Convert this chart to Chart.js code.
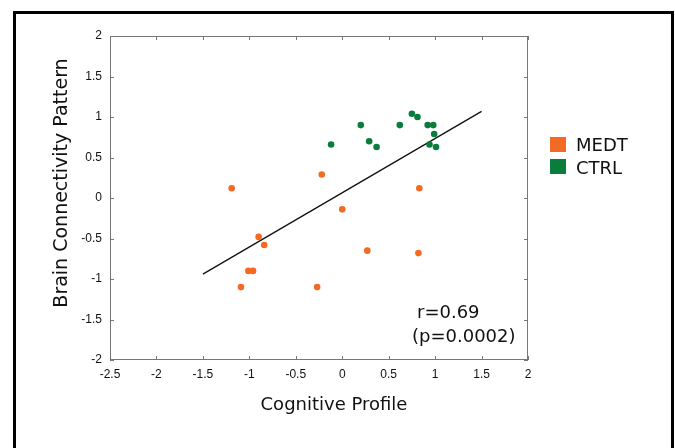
<!DOCTYPE html>
<html>
<head>
<meta charset="utf-8">
<script src="https://cdn.jsdelivr.net/npm/chart.js@4/dist/chart.umd.min.js"></script>
<style>
body { margin: 0; background: #fff; }
#wrap { position: relative; width: 675px; height: 448px; }
#frame { position: absolute; left: 13px; top: 11px; width: 655px; height: 440px;
  border: 3px solid #000; border-bottom: none; pointer-events: none; }
canvas { position: absolute; left: 0; top: 0; }
</style>
</head>
<body>
<div id="wrap">
<canvas id="Chart" width="675" height="448"></canvas>
<div id="frame"></div>
</div>
<script>
// MEDT group
const medtX = [-1.19, -0.22, 0.00, -0.90, -0.84, -1.01, -0.96, -1.09, -0.27, 0.27, 0.83, 0.82];
const medtY = [0.12, 0.29, -0.14, -0.48, -0.58, -0.90, -0.90, -1.10, -1.10, -0.65, 0.12, -0.68];
// CTRL group
const ctrlX = [-0.12, 0.20, 0.29, 0.37, 0.62, 0.75, 0.81, 0.92, 0.98, 0.99, 0.94, 1.01];
const ctrlY = [0.66, 0.90, 0.70, 0.63, 0.90, 1.04, 1.00, 0.90, 0.90, 0.79, 0.66, 0.63];
// fit line ends
const fitX = [-1.5, 1.5];
const fitY = [-0.94, 1.07];

const xTicks = [-2.5, -2, -1.5, -1, -0.5, 0, 0.5, 1, 1.5, 2];
const yTicks = [-2, -1.5, -1, -0.5, 0, 0.5, 1, 1.5, 2];
const groups = ["MEDT", "CTRL"];
const colors = ["#f26a24", "#0a7d3c"];
const stats = ["r=0.69", "(p=0.0002)"];
const xTitle = "Cognitive Profile";
const yTitle = "Brain Connectivity Pattern";

function pts(xs, ys)
{
    return xs.map((x, i) => ({x: x, y: ys[i]}));
}

const decor = {
    id: "decor",
    afterDraw(chart)
    {
        const ctx = chart.ctx;
        const a = chart.chartArea;
        const sx = chart.scales.x, sy = chart.scales.y;
        ctx.save();
        // box + inward ticks
        ctx.strokeStyle = "#777";
        ctx.lineWidth = 1;
        ctx.strokeRect(a.left + 0.5, a.top + 0.5, a.right - a.left - 1, a.bottom - a.top - 1);
        ctx.beginPath();
        xTicks.forEach(v => {
            const px = Math.round(sx.getPixelForValue(v)) + 0.5;
            ctx.moveTo(px, a.bottom); ctx.lineTo(px, a.bottom - 4);
            ctx.moveTo(px, a.top); ctx.lineTo(px, a.top + 4);
        });
        yTicks.forEach(v => {
            const py = Math.round(sy.getPixelForValue(v)) + 0.5;
            ctx.moveTo(a.left, py); ctx.lineTo(a.left + 4, py);
            ctx.moveTo(a.right, py); ctx.lineTo(a.right - 4, py);
        });
        ctx.stroke();

        ctx.fillStyle = "#111";
        ctx.font = "18px 'DejaVu Sans'";
        ctx.textBaseline = "alphabetic";
        ctx.textAlign = "left";
        ctx.fillText(stats[0], 417, 318);
        ctx.fillText(stats[1], 412, 342);

        // legend
        groups.forEach((g, i) => {
            ctx.fillStyle = colors[i];
            ctx.fillRect(550, 137 + i * 22, 16, 15);
            ctx.fillStyle = "#111";
            ctx.fillText(g, 576, 151 + i * 22.5);
        });

        ctx.textAlign = "center";
        ctx.fillText(xTitle, 334, 410);
        ctx.translate(67, 183);
        ctx.rotate(-Math.PI / 2);
        ctx.font = "19px 'DejaVu Sans'";
        ctx.fillText(yTitle, 0, 0);
        ctx.restore();
    }
};

const tickFont = {family: "'Liberation Sans', Arial, sans-serif", size: 12};

new Chart(document.getElementById("Chart"), {
    type: "scatter",
    data: {
        datasets: [
            {
                label: groups[0],
                data: pts(medtX, medtY),
                backgroundColor: colors[0],
                borderWidth: 0,
                pointRadius: 3.3
            },
            {
                label: groups[1],
                data: pts(ctrlX, ctrlY),
                backgroundColor: colors[1],
                borderWidth: 0,
                pointRadius: 3.3
            },
            {
                label: "fit",
                data: pts(fitX, fitY),
                showLine: true,
                borderColor: "#111",
                borderWidth: 1.3,
                pointRadius: 0
            }
        ]
    },
    options: {
        responsive: false,
        animation: false,
        layout: {padding: {left: 0, top: 36, right: 147, bottom: 0}},
        plugins: {legend: {display: false}, tooltip: {enabled: false}},
        scales: {
            x: {
                type: "linear",
                min: -2.5, max: 2,
                afterFit: s => { s.height = 88; },
                afterBuildTicks: s => { s.ticks = xTicks.map(v => ({value: v})); },
                grid: {display: false, drawTicks: false},
                border: {display: false},
                ticks: {
                    font: tickFont, color: "#111", padding: 7,
                    maxRotation: 0, autoSkip: false,
                    callback: v => String(v)
                }
            },
            y: {
                type: "linear",
                min: -2, max: 2,
                afterFit: s => { s.width = 110; },
                afterBuildTicks: s => { s.ticks = yTicks.map(v => ({value: v})); },
                grid: {display: false, drawTicks: false},
                border: {display: false},
                ticks: {
                    font: tickFont, color: "#111", padding: 8,
                    autoSkip: false,
                    callback: v => String(v)
                }
            }
        }
    },
    plugins: [decor]
});
</script>
</body>
</html>
